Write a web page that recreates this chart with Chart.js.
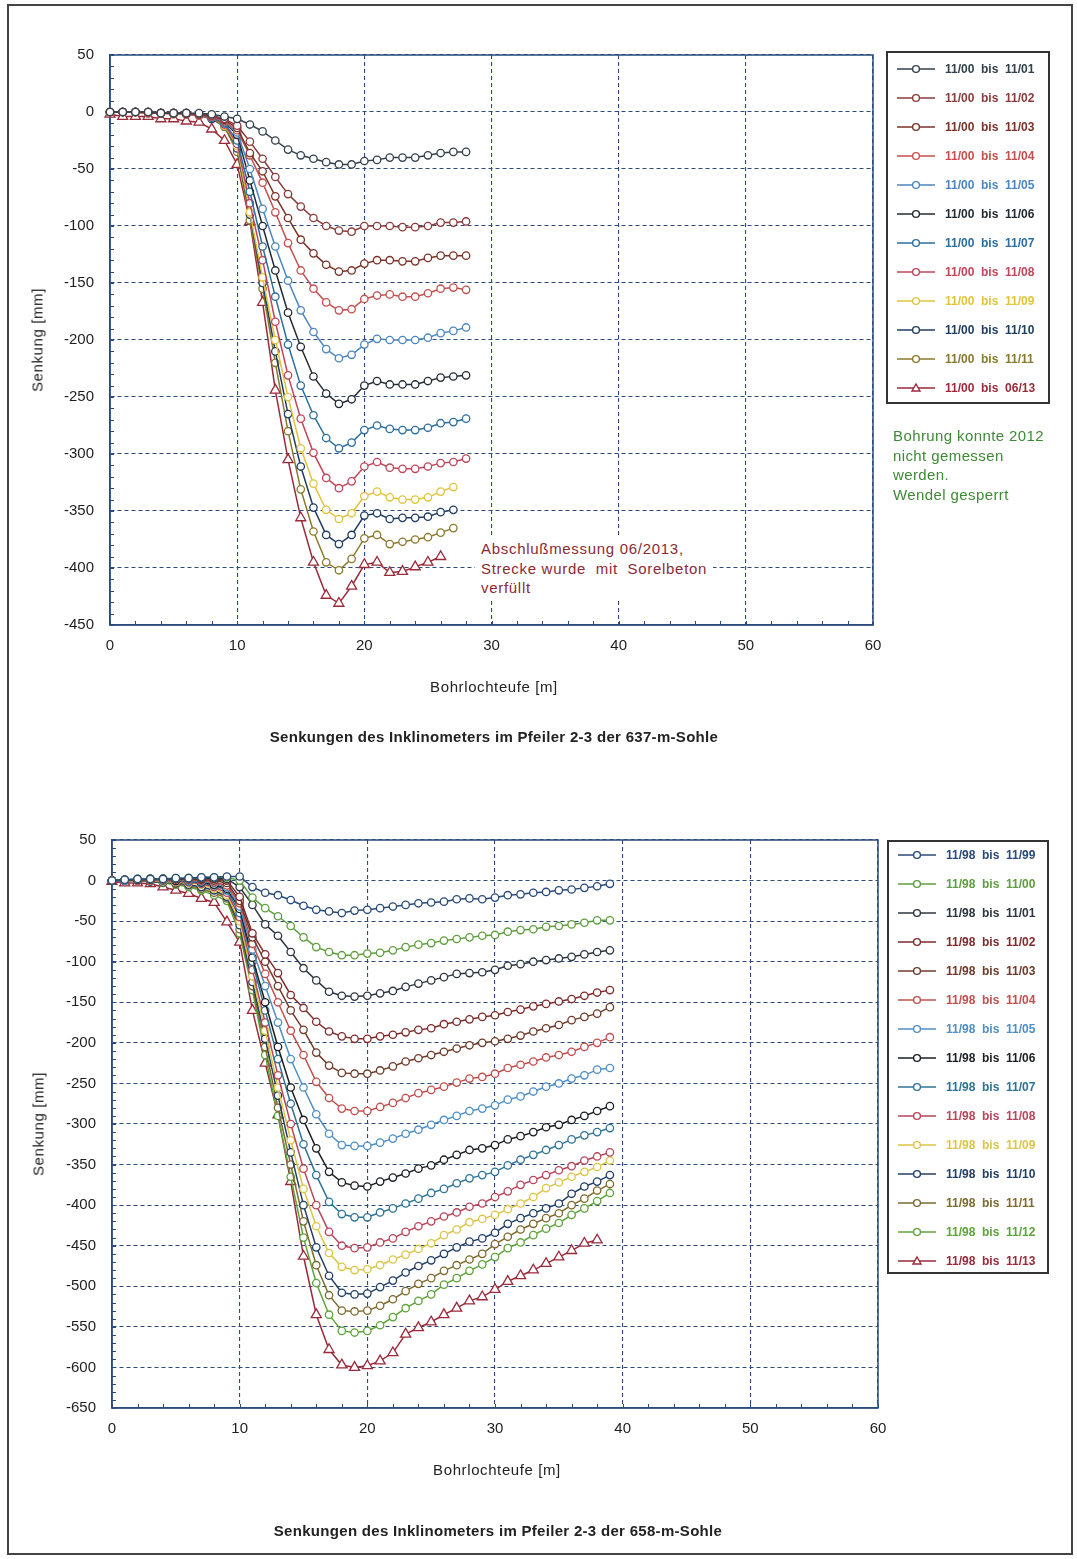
<!DOCTYPE html>
<html>
<head>
<meta charset="utf-8">
<script src="https://cdn.jsdelivr.net/npm/chart.js@4.4.1/dist/chart.umd.min.js"></script>
<style>
  body { margin: 0; background: #fff; font-family: "Liberation Sans", Arial, sans-serif; }
  #page { position: relative; width: 1077px; height: 1559px; overflow: hidden; }
  #frame { position: absolute; left: 7px; top: 4px; width: 1066px; height: 1551px; border: 2px solid #444; box-sizing: border-box; }
  canvas { position: absolute; left: 0; }
  .txt { position: absolute; white-space: nowrap; color: #222; font-size: 15px; letter-spacing: 0.6px; transform: translate(-50%, -50%); }
  .ytitle { transform: translate(-50%, -50%) rotate(-90deg); }
  .bold { font-weight: bold; letter-spacing: 0.3px; }
  .note { position: absolute; background: #fff; color: #8a2a35; font-size: 15px; line-height: 19.5px; letter-spacing: 0.7px; padding: 2px 6px; }
  .green { position: absolute; color: #3e8a36; font-size: 15px; line-height: 19.5px; letter-spacing: 0.4px; }
</style>
</head>
<body>
<div id="page">
  <div id="frame"></div>
  <canvas id="chart-top" width="1077" height="770" style="top:0"></canvas>
  <canvas id="chart-bottom" width="1077" height="789" style="top:770px"></canvas>

  <div class="txt ytitle" style="left:37px; top:340px">Senkung [mm]</div>
  <div class="txt" style="left:494px; top:686px">Bohrlochteufe [m]</div>
  <div class="txt bold" style="left:494px; top:736px">Senkungen des Inklinometers im Pfeiler 2-3 der 637-m-Sohle</div>
  <div class="note" style="left:475px; top:537px">Abschlußmessung 06/2013,<br>Strecke wurde&nbsp; mit&nbsp; Sorelbeton<br>verfüllt</div>
  <div class="green" style="left:893px; top:426px">Bohrung konnte 2012<br>nicht gemessen<br>werden.<br>Wendel gesperrt</div>

  <div class="txt ytitle" style="left:38px; top:1124px">Senkung [mm]</div>
  <div class="txt" style="left:497px; top:1469px">Bohrlochteufe [m]</div>
  <div class="txt bold" style="left:498px; top:1530px">Senkungen des Inklinometers im Pfeiler 2-3 der 658-m-Sohle</div>
</div>
<script>
// depth along the borehole [m]
const depthTop = [0,1,2,3,4,5,6,7,8,9,10,11,12,13,14,15,16,17,18,19,20,21,22,23,24,25,26,27,28];
const depthBottom = [0,1,2,3,4,5,6,7,8,9,10,11,12,13,14,15,16,17,18,19,20,21,22,23,24,25,26,27,28,29,30,31,32,33,34,35,36,37,38,39];

// 637-m-Sohle, settlement [mm]
const t1101 = [0,0,0,0,-1,-1,-1,-1,-2,-4, -6,-11,-17,-25,-33,-38,-41,-44,-46,-46, -43,-42,-40,-40,-40,-38,-36,-35,-35];
const t1102 = [0,0,0,0,-1,-1,-1,-2,-3,-6, -12,-26,-41,-57,-72,-83,-93,-100,-104,-105, -100,-100,-100,-101,-101,-100,-97,-97,-96];
const t1103 = [0,0,0,0,-1,-1,-1,-2,-3,-7, -14,-36,-52,-74,-93,-112,-124,-134,-140,-139, -133,-130,-130,-131,-131,-128,-126,-126,-126];
const t1104 = [0,0,0,0,-1,-1,-1,-2,-4,-8, -16,-38,-62,-88,-115,-139,-155,-167,-174,-173, -164,-161,-160,-162,-162,-159,-155,-154,-156];
const t1105 = [0,0,0,0,-1,-1,-1,-2,-4,-9, -18,-50,-85,-118,-148,-174,-193,-208,-216,-213, -204,-199,-200,-200,-200,-198,-194,-192,-189];
const t1106 = [0,0,0,0,-1,-1,-1,-2,-4,-9, -20,-60,-100,-139,-176,-206,-232,-247,-256,-252, -240,-236,-239,-239,-239,-236,-233,-232,-231];
const t1107 = [0,0,0,0,-1,-1,-1,-2,-5,-10, -25,-70,-118,-162,-204,-240,-266,-286,-295,-290, -279,-275,-278,-279,-279,-277,-273,-272,-269];
const t1108 = [0,0,0,-1,-1,-1,-2,-3,-5,-11, -28,-80,-130,-184,-231,-269,-299,-321,-330,-324, -311,-307,-312,-313,-313,-311,-308,-307,-304];
const t1109 = [0,0,0,-1,-1,-1,-2,-3,-5,-12, -30,-88,-145,-200,-250,-295,-326,-349,-357,-352, -337,-333,-338,-340,-340,-338,-333,-329];
const t1110 = [0,0,0,-1,-1,-1,-2,-3,-6,-12, -32,-90,-150,-210,-265,-311,-347,-371,-379,-371, -354,-352,-357,-356,-356,-355,-351,-349];
const t1111 = [0,0,0,-1,-1,-2,-2,-3,-6,-13, -35,-95,-155,-220,-280,-331,-368,-395,-402,-392, -374,-371,-379,-377,-375,-373,-369,-365];
const t0613 = [-2,-4,-4,-4,-6,-6,-8,-9,-15,-25, -46,-96,-167,-244,-305,-356,-395,-424,-431,-416, -397,-395,-404,-403,-399,-395,-390];

const topLabels = ['11/00  bis  11/01','11/00  bis  11/02','11/00  bis  11/03','11/00  bis  11/04','11/00  bis  11/05','11/00  bis  11/06',
  '11/00  bis  11/07','11/00  bis  11/08','11/00  bis  11/09','11/00  bis  11/10','11/00  bis  11/11','11/00  bis  06/13'];
const topColors = ['#33414d','#8a3b3b','#7b3328','#c4504e','#4d86bf','#222b33','#2d6e9e','#c0465a','#e2c43c','#1f3d63','#8a7a2e','#9a2a3a'];

// 658-m-Sohle, settlement [mm]
const b1199 = [0,1,2,2,2,3,3,4,4,5, 5,-8,-15,-18,-24,-31,-36,-38,-40,-37, -36,-34,-32,-30,-28,-27,-26,-23,-22,-23, -21,-18,-17,-15,-14,-12,-11,-9,-7,-4];
const b1100 = [0,1,2,2,2,3,3,4,4,4, 0,-21,-34,-44,-56,-70,-82,-88,-92,-92, -90,-89,-86,-82,-79,-77,-74,-72,-70,-68, -67,-63,-61,-60,-57,-56,-54,-52,-49,-49];
const b1101 = [0,1,1,2,2,2,3,3,3,2, -8,-30,-54,-68,-88,-108,-123,-137,-142,-143, -142,-139,-136,-131,-127,-123,-119,-115,-114,-113, -110,-105,-103,-100,-98,-96,-94,-91,-88,-86];
const b1102 = [0,1,1,2,2,2,2,2,2,0, -20,-65,-91,-114,-141,-157,-174,-186,-192,-195, -195,-192,-190,-187,-184,-182,-177,-174,-171,-168, -166,-162,-159,-155,-152,-149,-146,-142,-138,-135];
const b1103 = [0,1,1,1,2,2,2,1,0,-3, -25,-70,-100,-130,-160,-184,-212,-228,-237,-238, -238,-234,-229,-223,-219,-215,-211,-207,-203,-200, -198,-195,-191,-186,-182,-178,-172,-168,-164,-156];
const b1104 = [0,1,1,1,1,1,1,0,-2,-6, -28,-78,-115,-150,-185,-215,-248,-268,-281,-284, -284,-279,-274,-268,-262,-258,-254,-249,-244,-242, -238,-231,-227,-223,-218,-215,-211,-205,-200,-193];
const b1105 = [0,0,1,1,1,1,0,-1,-3,-8, -32,-85,-130,-175,-220,-255,-288,-312,-326,-327, -327,-323,-318,-312,-307,-301,-295,-290,-284,-281, -277,-270,-266,-260,-254,-250,-244,-240,-233,-231];
const b1106 = [0,0,1,1,1,0,0,-2,-5,-10, -35,-95,-150,-205,-255,-295,-330,-359,-372,-376, -377,-371,-366,-361,-355,-351,-344,-338,-332,-330, -326,-319,-315,-310,-304,-301,-295,-290,-284,-278];
const b1107 = [0,0,1,1,0,0,-1,-3,-6,-12, -40,-100,-160,-220,-275,-325,-363,-396,-411,-415, -415,-409,-404,-398,-392,-385,-380,-373,-367,-363, -359,-351,-344,-338,-332,-326,-319,-314,-310,-305];
const b1108 = [0,0,0,0,0,-1,-2,-4,-8,-15, -45,-110,-175,-240,-300,-355,-400,-433,-450,-453, -452,-446,-441,-433,-426,-420,-414,-409,-402,-398, -390,-383,-375,-369,-363,-357,-352,-345,-340,-335];
const b1109 = [0,0,0,0,-1,-2,-3,-5,-10,-18, -50,-118,-185,-255,-320,-380,-426,-459,-476,-480, -479,-474,-467,-461,-454,-447,-437,-430,-421,-417, -412,-405,-398,-390,-379,-372,-365,-359,-353,-345];
const b1110 = [0,0,0,-1,-2,-3,-5,-8,-12,-20, -55,-125,-195,-265,-335,-400,-452,-487,-508,-510, -509,-501,-493,-483,-475,-468,-460,-452,-445,-441, -434,-423,-416,-410,-404,-398,-386,-377,-371,-363];
const b1111 = [0,0,0,-1,-2,-4,-6,-10,-15,-22, -60,-130,-205,-280,-350,-420,-474,-511,-530,-531, -530,-524,-516,-506,-497,-490,-481,-474,-467,-460, -448,-439,-430,-423,-416,-410,-400,-392,-382,-374];
const b1112 = [0,0,0,-1,-3,-5,-8,-12,-18,-25, -65,-135,-215,-290,-365,-440,-496,-535,-555,-557, -555,-548,-538,-527,-518,-510,-498,-490,-481,-473, -464,-453,-446,-437,-429,-422,-412,-404,-395,-385];
const b1113 = [-1,-3,-3,-4,-8,-12,-16,-22,-27,-51, -76,-160,-225,-289,-371,-463,-535,-578,-597,-600, -598,-592,-582,-559,-551,-544,-535,-527,-518,-513, -504,-494,-487,-480,-472,-464,-456,-447,-443];

const bottomLabels = ['11/98  bis  11/99','11/98  bis  11/00','11/98  bis  11/01','11/98  bis  11/02','11/98  bis  11/03','11/98  bis  11/04',
  '11/98  bis  11/05','11/98  bis  11/06','11/98  bis  11/07','11/98  bis  11/08','11/98  bis  11/09','11/98  bis  11/10',
  '11/98  bis  11/11','11/98  bis  11/12','11/98  bis  11/13'];
const bottomColors = ['#284a78','#5f9e3e','#2c3640','#7e2b2b','#6e3b2b','#c0504d','#4f8fc4','#1b1f22','#2f7396','#b8465a','#dcc548','#223f66','#7d6a2e','#5ea33c','#9a2a3a'];

const axisColor = '#2b4b7c';
Chart.defaults.font.family = "'Liberation Sans', Arial, sans-serif";

function makeDatasets(series, labels, colors, depth) {
  return series.map((values, i) => {
    const isLast = i === series.length - 1;
    return {
      label: labels[i],
      data: values.map((v, j) => ({ x: depth[j], y: v })),
      borderColor: colors[i],
      backgroundColor: '#fff',
      borderWidth: 1.5,
      pointStyle: isLast ? 'triangle' : 'circle',
      pointRadius: isLast ? 5.8 : 3.7,
      pointBorderWidth: 1.3,
      pointBackgroundColor: '#fff',
      pointBorderColor: colors[i],
      tension: 0,
      clip: false,
    };
  });
}

// frame, minor ticks and the boxed legend
const plotExtras = {
  id: 'plotExtras',
  beforeDatasetsDraw(chart) {
    const { ctx, chartArea: a, scales: { x, y } } = chart;
    ctx.save();
    ctx.strokeStyle = axisColor;
    ctx.lineWidth = 1.5;
    ctx.strokeRect(a.left, a.top, a.right - a.left, a.bottom - a.top);
    ctx.lineWidth = 1;
    ctx.beginPath();
    for (let v = y.min; v <= y.max; v += 10) {
      const py = Math.round(y.getPixelForValue(v)) + 0.5;
      ctx.moveTo(a.left, py);
      ctx.lineTo(a.left + 4, py);
    }
    for (let v = x.min; v <= x.max; v += 2) {
      const px = Math.round(x.getPixelForValue(v)) + 0.5;
      ctx.moveTo(px, a.bottom);
      ctx.lineTo(px, a.bottom - 4);
    }
    ctx.stroke();
    ctx.restore();
  },
  afterDraw(chart, args, opts) {
    const ctx = chart.ctx;
    ctx.save();
    ctx.strokeStyle = '#333';
    ctx.lineWidth = 2;
    ctx.strokeRect(opts.x, opts.y, opts.w, opts.h);
    ctx.font = "bold 12px 'Liberation Sans', Arial, sans-serif";
    ctx.textBaseline = 'middle';
    chart.data.datasets.forEach((ds, i) => {
      const cy = opts.y + opts.first + i * opts.row;
      ctx.strokeStyle = ds.borderColor;
      ctx.lineWidth = 1.4;
      ctx.beginPath();
      ctx.moveTo(opts.x + 10, cy);
      ctx.lineTo(opts.x + 48, cy);
      ctx.stroke();
      ctx.fillStyle = '#fff';
      ctx.beginPath();
      if (ds.pointStyle === 'triangle') {
        ctx.moveTo(opts.x + 29, cy - 4);
        ctx.lineTo(opts.x + 33, cy + 3);
        ctx.lineTo(opts.x + 25, cy + 3);
        ctx.closePath();
      } else {
        ctx.arc(opts.x + 29, cy, 3.4, 0, Math.PI * 2);
      }
      ctx.fill();
      ctx.stroke();
      ctx.fillStyle = ds.borderColor;
      ctx.fillText(ds.label, opts.x + 58, cy + 1);
    });
    ctx.restore();
  },
};

function makeChart(canvasId, datasets, yMin, yMax, layout, legend) {
  const grid = { color: axisColor, lineWidth: 1.1, drawTicks: false };
  return new Chart(document.getElementById(canvasId), {
    type: 'line',
    data: { datasets },
    options: {
      responsive: false,
      animation: false,
      layout: { padding: layout.padding },
      plugins: { legend: { display: false }, tooltip: { enabled: false }, plotExtras: legend },
      scales: {
        x: {
          type: 'linear',
          min: 0,
          max: 60,
          grid,
          border: { display: true, color: axisColor, width: 1.5, dash: [4, 3] },
          ticks: { stepSize: 10, padding: 12, color: '#1e1e1e', font: { size: 15 } },
          afterFit(scale) { scale.height = 100; },
        },
        y: {
          min: yMin,
          max: yMax,
          grid,
          border: { display: true, color: axisColor, width: 1.5, dash: [4, 3] },
          ticks: { stepSize: 50, padding: 16, color: '#1e1e1e', font: { size: 15 } },
          afterFit(scale) { scale.width = layout.yWidth; },
        },
      },
    },
    plugins: [plotExtras],
  });
}

makeChart('chart-top',
  makeDatasets([t1101, t1102, t1103, t1104, t1105, t1106, t1107, t1108, t1109, t1110, t1111, t0613], topLabels, topColors, depthTop),
  -450, 50,
  { padding: { left: 0, right: 204, top: 55, bottom: 45 }, yWidth: 110 },
  { x: 887, y: 52, w: 162, h: 351, first: 17, row: 29 });

makeChart('chart-bottom',
  makeDatasets([b1199, b1100, b1101, b1102, b1103, b1104, b1105, b1106, b1107, b1108, b1109, b1110, b1111, b1112, b1113], bottomLabels, bottomColors, depthBottom),
  -650, 50,
  { padding: { left: 0, right: 199, top: 70, bottom: 51 }, yWidth: 112 },
  { x: 888, y: 71, w: 160, h: 432, first: 14, row: 29 });
</script>
</body>
</html>
